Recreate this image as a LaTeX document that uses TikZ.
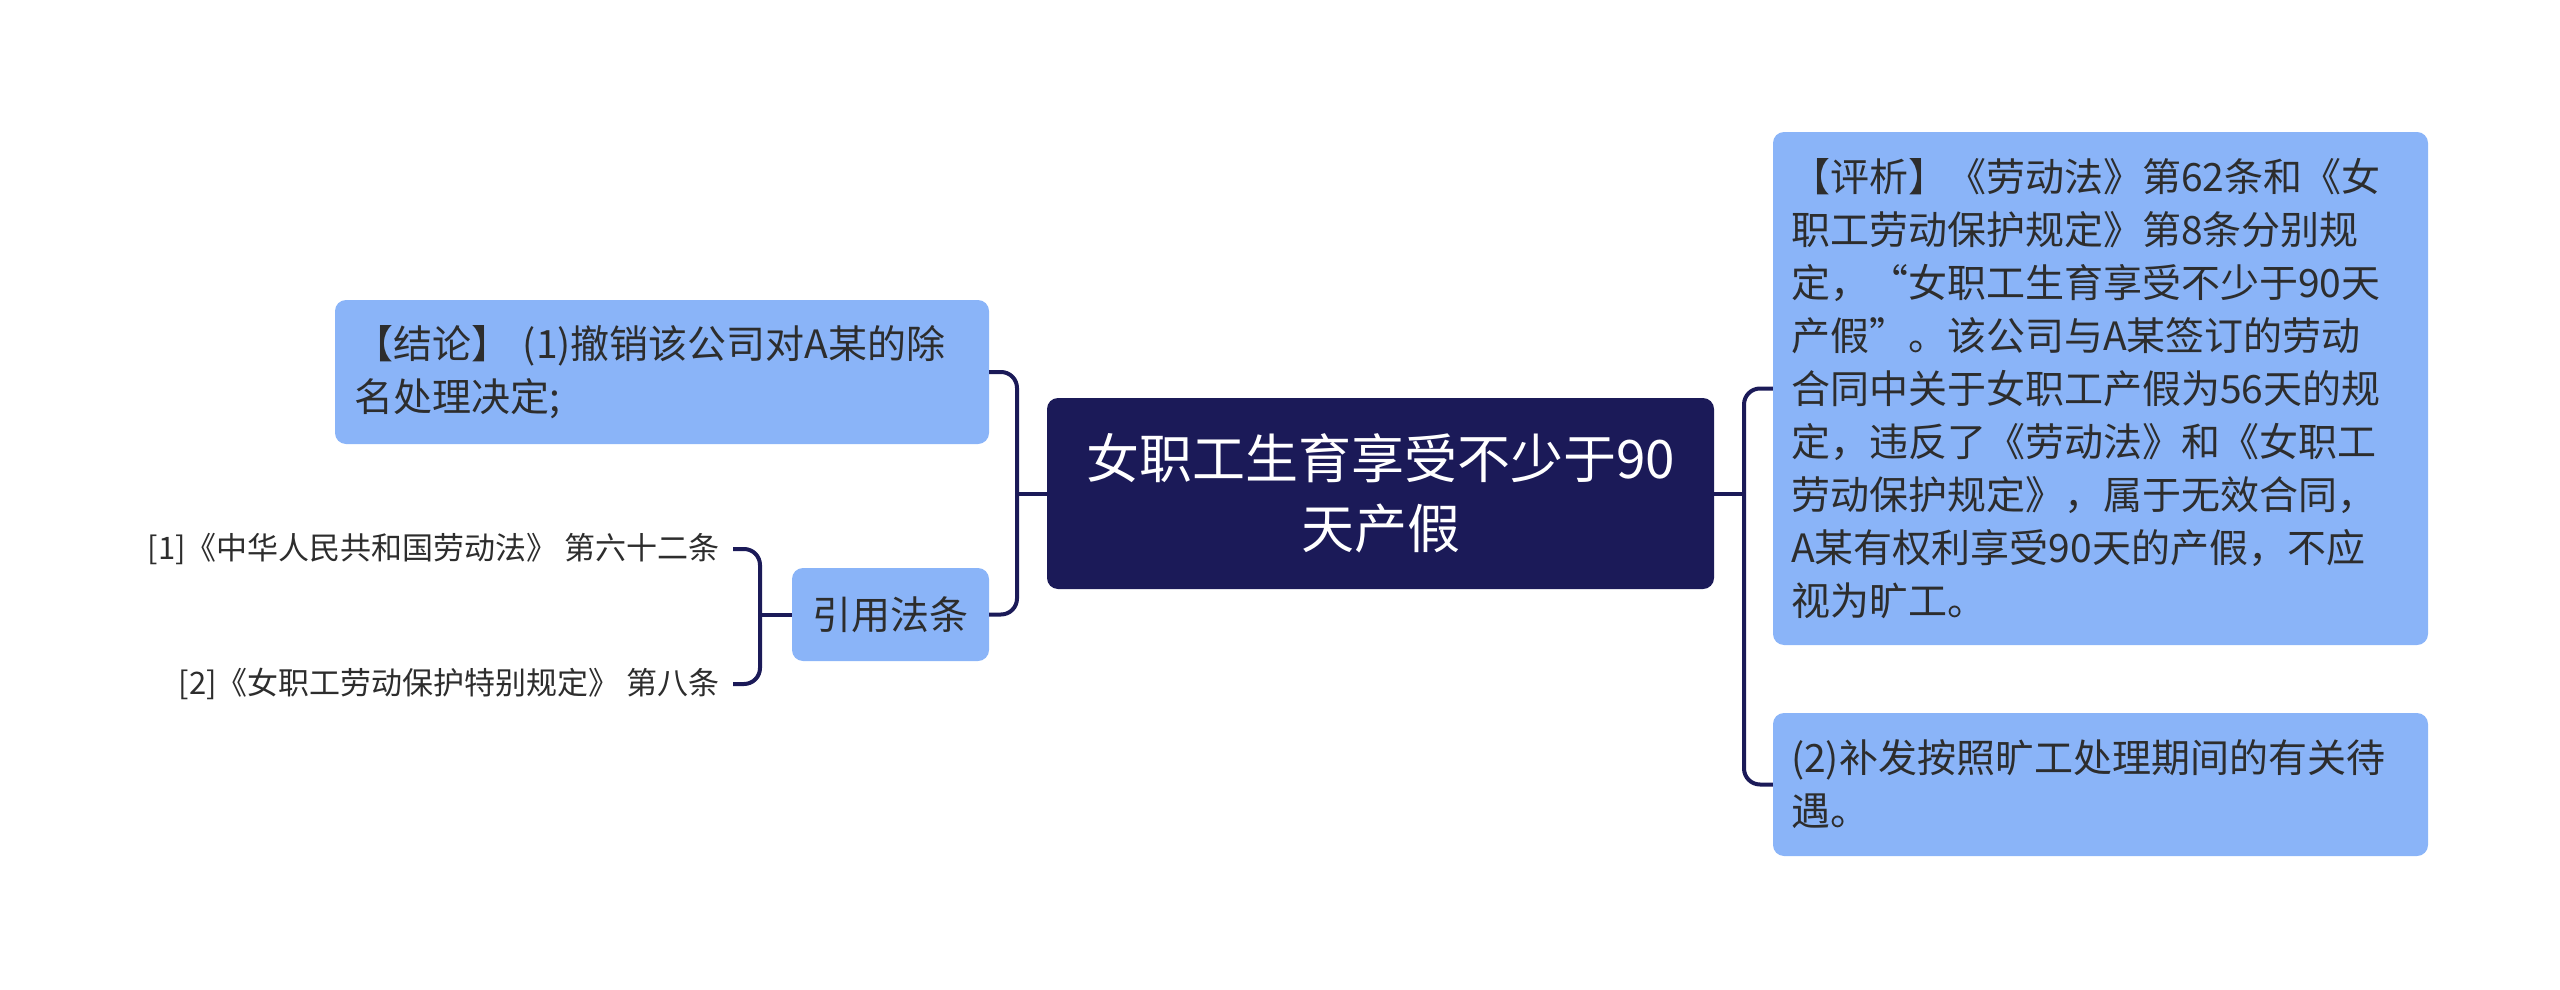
\documentclass[tikz,border=0pt]{standalone}
\usepackage{fontspec}
\setmainfont{Noto Sans CJK SC}
\definecolor{navy}{RGB}{27,26,88}
\definecolor{lblue}{RGB}{138,180,248}
\definecolor{txt}{RGB}{45,45,45}
\begin{document}
\begin{tikzpicture}[x=1pt,y=-1pt,
  mainbox/.style={fill=navy, rounded corners=11pt, inner sep=0pt, text=white,
    font=\fontsize{53}{70}\selectfont, align=center},
  bluebox/.style={fill=lblue, rounded corners=11pt, inner sep=0pt, text=txt,
    font=\fontsize{39}{53}\selectfont, align=left},
  cite/.style={inner ysep=0pt, inner xsep=13pt, text=txt, font=\fontsize{31}{40}\selectfont},
  conn/.style={draw=navy, line width=4pt, rounded corners=16pt}]
\useasboundingbox (0,0) rectangle (2560,990);

\node[mainbox, minimum width=667pt, minimum height=191pt, text width=640pt] (c) at (1380.5,493.5)
  {女职工生育享受不少于90\\天产假};

\node[bluebox, minimum width=654pt, minimum height=144pt, text width=616pt] (l1) at (662,372)
  {【结论】 (1)撤销该公司对A某的除\\名处理决定;};
\node[bluebox, minimum width=197pt, minimum height=93pt, align=center] (l2) at (890.5,614.5)
  {引用法条};

\node[cite, anchor=east] (q1) at (733,549) {[1]《中华人民共和国劳动法》 第六十二条};
\node[cite, anchor=east] (q2) at (733,684) {[2]《女职工劳动保护特别规定》 第八条};

\node[bluebox, minimum width=655pt, minimum height=513pt, text width=619pt] (r1) at (2100.5,388.5)
  {【评析】《劳动法》第62条和《女\\
   职工劳动保护规定》第8条分别规\\
   定，“女职工生育享受不少于90天\\
   产假”。该公司与A某签订的劳动\\
   合同中关于女职工产假为56天的规\\
   定，违反了《劳动法》和《女职工\\
   劳动保护规定》，属于无效合同，\\
   A某有权利享受90天的产假，不应\\
   视为旷工。};
\node[bluebox, minimum width=655pt, minimum height=143pt, text width=619pt] (r2) at (2100.5,784.5)
  {(2)补发按照旷工处理期间的有关待\\遇。};

\coordinate (lx) at (1017,0);
\coordinate (rx) at (1744,0);
\coordinate (qx) at (760,0);

\draw[conn] (c.west) -- (lx |- c.west);
\draw[conn] (l1.east) -| (lx |- c.west) |- (l2.east);
\draw[conn] (c.east) -- (rx |- c.east);
\draw[conn] (r1.west) -| (rx |- c.east) |- (r2.west);
\draw[conn] (l2.west) -- (qx |- l2.west);
\draw[conn] (q1.east) -| (qx |- l2.west) |- (q2.east);
\end{tikzpicture}
\end{document}
